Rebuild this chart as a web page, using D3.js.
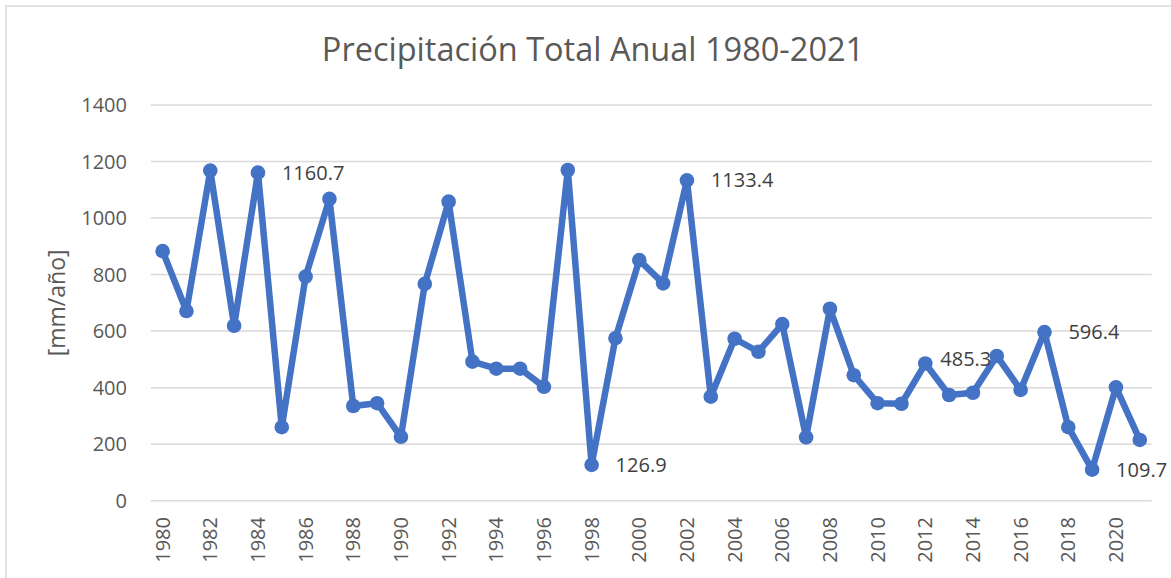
<!DOCTYPE html>
<html>
<head>
<meta charset="utf-8">
<script src="https://cdn.jsdelivr.net/npm/d3@7"></script>
<style>
    body { margin: 0; background: #fff; }
    svg { display: block; font-family: 'Open Sans', sans-serif; }
</style>
</head>
<body>
<svg class="chart" width="1171" height="578"></svg>
<script>
var years = [1980, 1981, 1982, 1983, 1984, 1985, 1986, 1987, 1988, 1989,
    1990, 1991, 1992, 1993, 1994, 1995, 1996, 1997, 1998, 1999,
    2000, 2001, 2002, 2003, 2004, 2005, 2006, 2007, 2008, 2009,
    2010, 2011, 2012, 2013, 2014, 2015, 2016, 2017, 2018, 2019,
    2020, 2021];
var precip = [883, 671, 1168, 619, 1160.7, 260, 793, 1068, 335, 345,
    226, 767, 1058, 492, 467, 467, 403, 1170, 126.9, 575,
    851, 769, 1133.4, 368, 573, 527, 625, 224, 679, 444,
    345, 343, 485.3, 374, 382, 512, 392, 596.4, 260, 109.7,
    401, 215];
var labelledYears = [1984, 1998, 2002, 2012, 2017, 2019];
var yTicks = [0, 200, 400, 600, 800, 1000, 1200, 1400];
var xTickYears = years.filter(function (y) { return y % 2 === 0; });

(function () {
    'use strict';

    var blue = '#4472C4', grey = '#595959', grid = '#d9d9d9',
        left = 150.7, right = 1151.7, top = 105, bottom = 500.7,
        svg = d3.select('.chart'),
        data = years.map(function (y, i) { return {year: y, value: precip[i]}; }),
        x, y, line, labelShift;

    // chart frame runs off the right and bottom edge of the picture
    svg.append('rect')
        .attr('x', 6).attr('y', 6)
        .attr('width', 1200).attr('height', 600)
        .attr('fill', 'none')
        .attr('stroke', grid)
        .attr('stroke-width', 1.5);

    x = d3.scaleBand().domain(years).range([left, right]);
    y = d3.scaleLinear().domain([0, 1400]).range([bottom, top]);

    function cx(d) { return x(d.year) + x.bandwidth() / 2; }

    // gridlines + y labels
    svg.append('g').selectAll('line').data(yTicks).enter().append('line')
        .attr('x1', left).attr('x2', right)
        .attr('y1', y).attr('y2', y)
        .attr('stroke', grid)
        .attr('stroke-width', 1.5);

    svg.append('g').selectAll('text').data(yTicks).enter().append('text')
        .attr('x', 127)
        .attr('y', y)
        .attr('dy', '0.35em')
        .attr('text-anchor', 'end')
        .attr('fill', grey)
        .attr('font-size', 20)
        .text(function (d) { return d; });

    // x labels, rotated
    svg.append('g').selectAll('text').data(xTickYears).enter().append('text')
        .attr('transform', function (d) {
            return 'translate(' + (x(d) + x.bandwidth() / 2) + ',517) rotate(-90)';
        })
        .attr('dy', '0.35em')
        .attr('text-anchor', 'end')
        .attr('fill', grey)
        .attr('font-size', 20)
        .text(function (d) { return d; });

    svg.append('text')
        .attr('x', 593).attr('y', 61)
        .attr('text-anchor', 'middle')
        .attr('fill', grey)
        .attr('font-size', 32.5)
        .text('Precipitación Total Anual 1980-2021');

    svg.append('text')
        .attr('transform', 'translate(57,' + (top + bottom) / 2 + ') rotate(-90)')
        .attr('dy', '0.35em')
        .attr('text-anchor', 'middle')
        .attr('fill', grey)
        .attr('font-size', 23)
        .text('[mm/año]');

    line = d3.line().x(cx).y(function (d) { return y(d.value); });

    svg.append('path')
        .datum(data)
        .attr('d', line)
        .attr('fill', 'none')
        .attr('stroke', blue)
        .attr('stroke-width', 6.5)
        .attr('stroke-linejoin', 'round');

    svg.append('g').selectAll('circle').data(data).enter().append('circle')
        .attr('cx', cx)
        .attr('cy', function (d) { return y(d.value); })
        .attr('r', 7.3)
        .attr('fill', blue);

    // Excel put most labels to the right; 2012 was dragged in a bit
    labelShift = {2012: [-9, -5]};
    svg.append('g').selectAll('text')
        .data(data.filter(function (d) { return labelledYears.indexOf(d.year) >= 0; }))
        .enter().append('text')
        .attr('x', function (d) { return cx(d) + 24 + (labelShift[d.year] ? labelShift[d.year][0] : 0); })
        .attr('y', function (d) { return y(d.value) + (labelShift[d.year] ? labelShift[d.year][1] : 0); })
        .attr('dy', '0.35em')
        .attr('fill', '#404040')
        .attr('font-size', 20)
        .text(function (d) { return d.value.toFixed(1); });
}());
</script>
</body>
</html>
